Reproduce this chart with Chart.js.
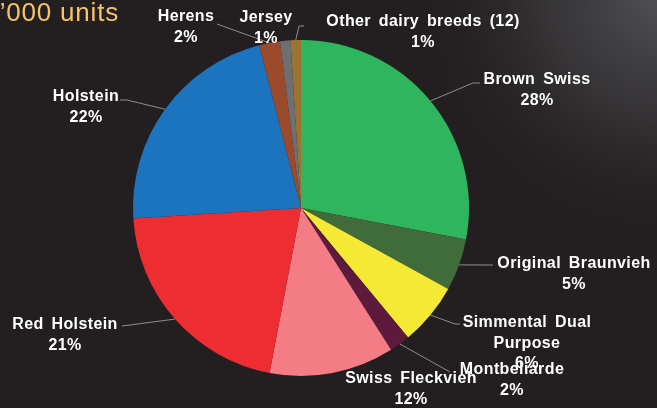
<!DOCTYPE html>
<html>
<head>
<meta charset="utf-8">
<script src="https://cdn.jsdelivr.net/npm/chart.js@4.4.1/dist/chart.umd.min.js"></script>
<style>
  html, body { margin: 0; padding: 0; background: #231f20; overflow: hidden; }
  #wrap { width: 657px; height: 408px; position: relative; }
</style>
</head>
<body>
<div id="wrap"><canvas id="c" width="657" height="408"></canvas></div>
<script>
// Dairy cattle breeds, share of units (%)
const breeds = [
  'Brown Swiss', 'Original Braunvieh', 'Simmental Dual Purpose', 'Montbeliarde',
  'Swiss Fleckvieh', 'Red Holstein', 'Holstein', 'Herens', 'Jersey',
  'Other dairy breeds (12)'
];
const shares = [28, 5, 6, 2, 12, 21, 22, 2, 1, 1];
const sliceColors = [
  '#2fb55e', '#406b3b', '#f4e935', '#5e1a3b', '#f37c85',
  '#ee2d33', '#1b74bd', '#9b4a2b', '#6f6f71', '#9b7432'
];
const unitTitle = '\u2019000 units';

// How each breed name wraps onto lines in its label
const labelWraps = [
  ['Brown Swiss'], ['Original Braunvieh'], ['Simmental Dual', 'Purpose'], ['Montbeliarde'],
  ['Swiss Fleckvieh'], ['Red Holstein'], ['Holstein'], ['Herens'], ['Jersey'],
  ['Other dairy breeds (12)']
];

// Label placement: centre of first text line, plus leader-line bend points
// (the leader always starts at the slice's outer edge, mid-angle)
const labelLayout = [
  { x: 537, y: 78,  leader: [[473, 83], [480, 83]] },
  { x: 574, y: 262, leader: [[493, 265]] },
  { x: 527, y: 321, leader: [[455, 324], [460, 324]] },
  { x: 512, y: 368, leader: [[450, 372]] },
  { x: 411, y: 377, leader: null },
  { x: 65,  y: 323, leader: [[122, 326]] },
  { x: 86,  y: 95,  leader: [[127, 100], [120, 100]] },
  { x: 186, y: 15,  leader: [[217, 24]] },
  { x: 266, y: 16,  leader: null },
  { x: 423, y: 20,  leader: [[299, 26], [304, 26]] }
];

const LINE_GAP = 20.5;

const backdrop = {
  id: 'backdrop',
  beforeDraw(chart) {
    const { ctx, width, height } = chart;
    ctx.save();
    ctx.fillStyle = '#231f20';
    ctx.fillRect(0, 0, width, height);
    const g = ctx.createRadialGradient(width + 10, -10, 0, width + 10, -10, 260);
    g.addColorStop(0, 'rgba(82,82,84,1)');
    g.addColorStop(0.45, 'rgba(62,61,63,0.75)');
    g.addColorStop(1, 'rgba(35,31,32,0)');
    ctx.fillStyle = g;
    ctx.fillRect(0, 0, width, height);

    ctx.fillStyle = '#f6c468';
    ctx.font = '26px "Liberation Sans", Arial, sans-serif';
    if ('letterSpacing' in ctx) ctx.letterSpacing = '0.8px';
    ctx.textAlign = 'right';
    ctx.textBaseline = 'alphabetic';
    ctx.fillText(unitTitle, 119, 21);
    ctx.restore();
  }
};

const sliceLabels = {
  id: 'sliceLabels',
  afterDraw(chart) {
    const { ctx } = chart;
    const meta = chart.getDatasetMeta(0);
    const data = chart.data.datasets[0].data;
    const total = data.reduce((a, b) => a + b, 0);
    ctx.save();

    // leader lines
    ctx.strokeStyle = '#8c8c8e';
    ctx.lineWidth = 1;
    meta.data.forEach((arc, i) => {
      const lay = labelLayout[i];
      if (!lay.leader) return;
      const p = arc.getProps(['x', 'y', 'startAngle', 'endAngle', 'outerRadius'], true);
      const mid = (p.startAngle + p.endAngle) / 2;
      ctx.beginPath();
      ctx.moveTo(p.x + Math.cos(mid) * p.outerRadius, p.y + Math.sin(mid) * p.outerRadius);
      lay.leader.forEach(([lx, ly]) => ctx.lineTo(lx, ly));
      ctx.stroke();
    });

    // label texts
    ctx.fillStyle = '#ffffff';
    ctx.font = 'bold 16px "Liberation Sans", Arial, sans-serif';
    ctx.textAlign = 'center';
    ctx.textBaseline = 'alphabetic';
    if ('letterSpacing' in ctx) ctx.letterSpacing = '0.4px';
    if ('wordSpacing' in ctx) ctx.wordSpacing = '3px';
    data.forEach((v, i) => {
      const lay = labelLayout[i];
      const lines = labelWraps[i].concat([Math.round(v / total * 100) + '%']);
      lines.forEach((t, k) => {
        ctx.fillText(t, lay.x, lay.y + 6 + k * LINE_GAP);
      });
    });
    ctx.restore();
  }
};

new Chart(document.getElementById('c'), {
  type: 'pie',
  data: {
    labels: breeds,
    datasets: [{
      data: shares,
      backgroundColor: sliceColors,
      borderWidth: 0,
      hoverOffset: 0
    }]
  },
  options: {
    responsive: false,
    animation: false,
    events: [],
    layout: { padding: { left: 133, right: 188, top: 40, bottom: 32 } },
    plugins: {
      legend: { display: false },
      tooltip: { enabled: false },
      title: { display: false }
    }
  },
  plugins: [backdrop, sliceLabels]
});
</script>
</body>
</html>
